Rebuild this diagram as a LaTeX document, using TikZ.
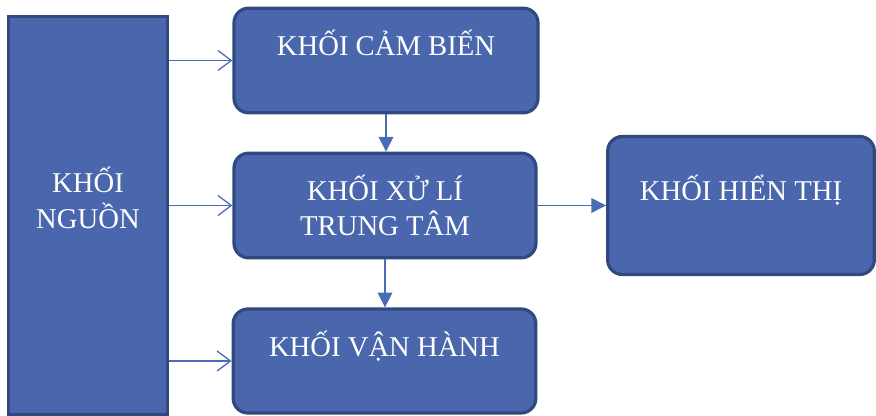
\documentclass[tikz,border=0pt]{standalone}
\usepackage{fontspec}
\setmainfont{Liberation Serif}
\usetikzlibrary{arrows.meta}
\definecolor{khoifill}{HTML}{4A66AD}
\definecolor{khoiline}{HTML}{30497F}
\definecolor{noiline}{HTML}{4A6CB6}
\tikzset{
    khoi/.style = {draw = khoiline, fill = khoifill, line width = 2.4pt, text = white,
        align = center, font = \fontsize{21.5}{26.5}\selectfont},
    khoitron/.style = {khoi, rounded corners = 11pt},
    noimo/.style = {draw = noiline, line width = 1pt, -{Straight Barb[length = 10pt, width = 15pt]}},
    noiday/.style = {draw = noiline, line width = 1pt, -{Triangle[length = 11pt, width = 11pt]}}
}
\begin{document}
\begin{tikzpicture}[x = 0.75pt, y = -0.75pt]
        \useasboundingbox (0,0) rectangle (876,416);
        \node[khoi, minimum width = 119pt, minimum height = 299pt] (nguon) at (88,215.5) {KHỐI\\NGUỒN\\~};
        \node[khoitron, minimum width = 228pt, minimum height = 78.5pt] (cambien) at (386,60.5) {KHỐI CẢM BIẾN\\~};
        \node[khoitron, minimum width = 226.5pt, minimum height = 78.5pt] (xuli) at (385,205.5) {KHỐI XỬ LÍ\\TRUNG TÂM};
        \node[khoitron, minimum width = 227pt, minimum height = 78pt] (vanhanh) at (384.5,361) {KHỐI VẬN HÀNH\\~};
        \node[khoitron, minimum width = 200pt, minimum height = 103.5pt] (hienthi) at (741,205.5) {KHỐI HIỂN THỊ\\~};
        \begin{scope}[style = noimo]
            \draw (nguon.east |- cambien.west) -- (cambien.west);
            \draw (nguon.east |- xuli.west) -- (xuli.west);
            \draw (nguon.east |- vanhanh.west) -- (vanhanh.west);
        \end{scope}
        \begin{scope}[style = noiday]
            \draw (cambien.south) -- (cambien.south |- xuli.north);
            \draw (xuli.south) -- (xuli.south |- vanhanh.north);
            \draw (xuli.east) -- (hienthi.west);
        \end{scope}
    \end{tikzpicture}
\end{document}
